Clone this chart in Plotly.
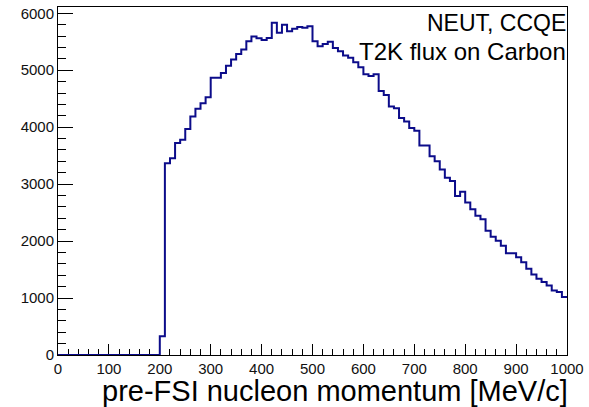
import plotly.graph_objects as go

# Histogram: pre-FSI nucleon momentum, 100 bins of 10 MeV/c from 0 to 1000
bin_edges = list(range(0, 1001, 10))
counts = [
    0, 0, 0, 0, 0, 0, 0, 0, 0, 0,
    0, 0, 0, 0, 0, 0, 0, 0, 0, 0,
    330, 3368, 3455, 3723, 3781, 3967, 4188, 4322, 4421, 4526,
    4869, 4869, 4950, 5079, 5189, 5283, 5363, 5509, 5590, 5560,
    5530, 5565, 5834, 5660, 5800, 5683, 5730, 5760, 5747, 5771,
    5509, 5422, 5460, 5500, 5390, 5334, 5260, 5220, 5140, 5050,
    4930, 4900, 4930, 4636, 4567, 4363, 4334, 4159, 4101, 3985,
    3939, 3677, 3677, 3490, 3403, 3258, 3112, 3054, 2792, 2868,
    2676, 2560, 2443, 2385, 2182, 2077, 2007, 1920, 1786, 1786,
    1716, 1629, 1513, 1414, 1338, 1280, 1222, 1134, 1105, 1018,
]
x_title = "pre-FSI nucleon momentum [MeV/c]"
label_lines = ["NEUT, CCQE", "T2K flux on Carbon"]

FONT = "Liberation Sans, Arial, Helvetica, sans-serif"

xs = bin_edges
ys = counts + [counts[-1]]

fig = go.Figure()
fig.add_trace(go.Scatter(
    x=xs, y=ys, mode="lines", line_shape="hv",
    line=dict(color="#0c0c8a", width=2),
    hoverinfo="skip", showlegend=False,
))

fig.update_layout(
    width=589, height=407,
    margin=dict(l=58, r=17, t=5, b=52),
    paper_bgcolor="white", plot_bgcolor="white",
    font=dict(family=FONT, color="black", size=15),
    showlegend=False,
)

fig.update_xaxes(
    range=[0, 1000], dtick=100, tick0=0,
    ticks="inside", ticklen=11, tickwidth=1, tickcolor="black",
    minor=dict(ticks="inside", dtick=20, ticklen=6, tickcolor="black", tickwidth=1),
    showgrid=False, zeroline=False,
    showline=True, linecolor="black", linewidth=1, mirror=True,
    tickfont=dict(family=FONT, size=15, color="#111"),
    ticklabelstandoff=0,
    layer="below traces",
)
fig.update_yaxes(
    range=[0, 6110], dtick=1000, tick0=0,
    ticks="inside", ticklen=15, tickwidth=1, tickcolor="black",
    minor=dict(ticks="inside", dtick=200, ticklen=8, tickcolor="black", tickwidth=1),
    showgrid=False, zeroline=False,
    showline=True, linecolor="black", linewidth=1, mirror=True,
    tickfont=dict(family=FONT, size=15, color="#111"),
    ticklabelstandoff=0,
    layer="below traces",
)

fig.add_annotation(
    text=x_title, xref="paper", yref="paper", x=1, y=0,
    xanchor="right", yanchor="top", xshift=3, yshift=-18,
    showarrow=False, font=dict(family=FONT, size=29, color="black"),
)
fig.add_annotation(
    text=label_lines[0], xref="paper", yref="paper", x=1, y=1,
    xanchor="right", yanchor="top", xshift=1, yshift=-1,
    showarrow=False, font=dict(family=FONT, size=23, color="black"),
)
fig.add_annotation(
    text=label_lines[1], xref="paper", yref="paper", x=1, y=1,
    xanchor="right", yanchor="top", xshift=1, yshift=-29,
    showarrow=False, font=dict(family=FONT, size=24, color="black"),
)

fig.write_html("out.html")
